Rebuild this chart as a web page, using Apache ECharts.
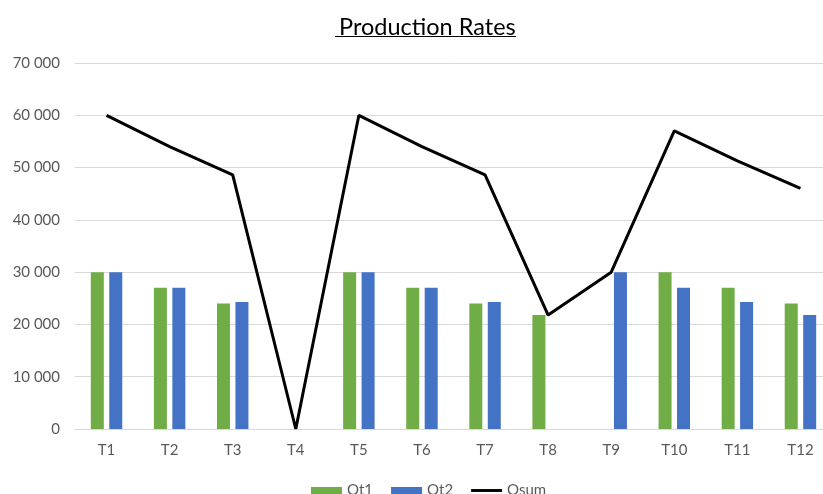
<!DOCTYPE html>
<html>
<head>
<meta charset="utf-8">
<script src="https://cdn.jsdelivr.net/npm/echarts@6/dist/echarts.min.js"></script>
<style>
  html, body { margin: 0; padding: 0; background: #fff; }
  #chart { width: 823px; height: 494px; }
</style>
</head>
<body>
<div id="chart"></div>
<script>
const categories = ['T1', 'T2', 'T3', 'T4', 'T5', 'T6', 'T7', 'T8', 'T9', 'T10', 'T11', 'T12'];
const qt1 = [30000, 27000, 24000, 0, 30000, 27000, 24000, 21800, 0, 30000, 27000, 24000];
const qt2 = [30000, 27000, 24300, 0, 30000, 27000, 24300, 0, 30000, 27000, 24300, 21800];
const qsum = [60000, 54000, 48600, 0, 60000, 54000, 48600, 21800, 30000, 57000, 51300, 46000];

const font = 'Lato, Liberation Sans, sans-serif';
const grey = '#595959';

const myChart = echarts.init(document.getElementById('chart'));
myChart.setOption({
  animation: false,
  title: {
    text: 'Production Rates',
    left: 334,
    top: 10,
    textStyle: { fontFamily: font, fontSize: 23.5, fontWeight: 'normal', color: '#000' }
  },
  graphic: [{
    type: 'line',
    shape: { x1: 335, y1: 36.5, x2: 516, y2: 36.5 },
    style: { stroke: '#000', lineWidth: 1.2 }
  }],
  legend: {
    top: 478,
    left: 306,
    itemGap: 18,
    itemWidth: 31,
    itemHeight: 7,
    textStyle: { fontFamily: font, fontSize: 15, color: grey },
    data: [
      { name: 'Qt1', icon: 'rect' },
      { name: 'Qt2', icon: 'rect' },
      { name: 'Qsum', icon: 'path://M0,0 L32,0 L32,3 L0,3 Z' }
    ]
  },
  grid: { left: 75, right: -9, top: 63, bottom: 65, outerBoundsMode: 'none' },
  xAxis: {
    type: 'category',
    data: categories,
    axisLine: { lineStyle: { color: '#d9d9d9' } },
    axisTick: { show: false },
    axisLabel: { color: grey, fontFamily: font, fontSize: 15, margin: 14 }
  },
  yAxis: {
    type: 'value',
    min: 0,
    max: 70000,
    interval: 10000,
    axisLine: { show: false },
    axisTick: { show: false },
    splitLine: { lineStyle: { color: '#d9d9d9' } },
    axisLabel: {
      color: grey, fontFamily: font, fontSize: 15, margin: 15,
      formatter: v => String(v).replace(/\B(?=(\d{3})+(?!\d))/g, ' ')
    }
  },
  series: [
    {
      name: 'Qt1', type: 'bar', data: qt1,
      barWidth: 13, barGap: '42%',
      itemStyle: { color: '#70ad47' }
    },
    {
      name: 'Qt2', type: 'bar', data: qt2,
      barWidth: 13,
      itemStyle: { color: '#4472c4' }
    },
    {
      name: 'Qsum', type: 'line', data: qsum,
      symbol: 'none',
      lineStyle: { color: '#000', width: 3 },
      itemStyle: { color: '#000' }
    }
  ]
});
</script>
</body>
</html>
